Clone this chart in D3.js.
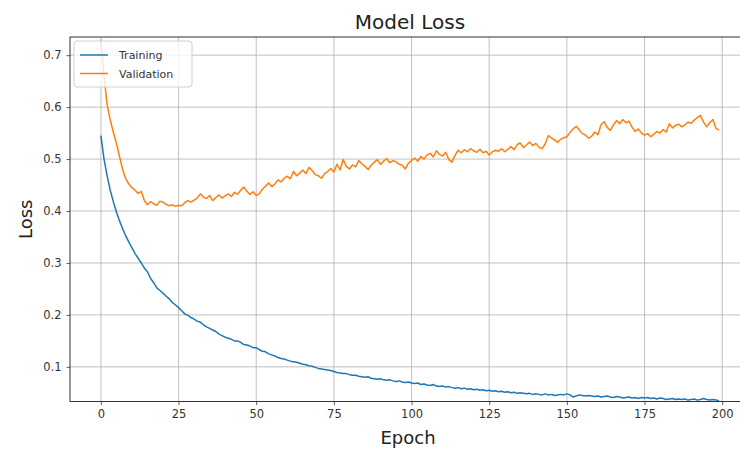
<!DOCTYPE html>
<html lang="en">
<head>
<meta charset="UTF-8">
<title>Model Loss</title>
<style>
  body { margin: 0; background: #fff; }
  #CHART { display: block; font-family: "DejaVu Sans", sans-serif; }
  .tick text { fill: #333; font-size: 11.5px; }
  .grid line { stroke: #b0b0b0; stroke-width: 0.8; }
</style>
</head>
<body>
<svg id="CHART" width="740" height="450"></svg>

<script src="https://cdnjs.cloudflare.com/ajax/libs/d3/7.8.5/d3.min.js"></script>
<script>
// values, one per epoch (0..199)
const training = [
  0.545, 0.500, 0.468, 0.440, 0.418, 0.398, 0.381, 0.366, 0.352, 0.340,
  0.329, 0.318, 0.309, 0.300, 0.290, 0.283, 0.270, 0.262, 0.252, 0.247,
  0.242, 0.236, 0.231, 0.224, 0.219, 0.214, 0.208, 0.202, 0.199, 0.195,
  0.192, 0.188, 0.186, 0.181, 0.177, 0.174, 0.171, 0.168, 0.163, 0.160,
  0.157, 0.155, 0.153, 0.150, 0.150, 0.147, 0.143, 0.142, 0.140, 0.137,
  0.137, 0.133, 0.130, 0.129, 0.125, 0.123, 0.121, 0.118, 0.116, 0.115,
  0.113, 0.111, 0.110, 0.109, 0.107, 0.105, 0.104, 0.102, 0.101, 0.099,
  0.097, 0.096, 0.095, 0.094, 0.093, 0.091, 0.089, 0.088, 0.087, 0.087,
  0.085, 0.084, 0.084, 0.082, 0.081, 0.080, 0.081, 0.078, 0.077, 0.076,
  0.077, 0.075, 0.074, 0.075, 0.073, 0.072, 0.073, 0.071, 0.070, 0.071,
  0.069, 0.068, 0.069, 0.066, 0.067, 0.065, 0.064, 0.066, 0.063, 0.062,
  0.063, 0.061, 0.062, 0.060, 0.059, 0.060, 0.058, 0.059, 0.057, 0.058,
  0.056, 0.057, 0.055, 0.056, 0.054, 0.055, 0.053, 0.054, 0.052, 0.053,
  0.051, 0.052, 0.050, 0.051, 0.049, 0.050, 0.049, 0.048, 0.049, 0.047,
  0.048, 0.047, 0.046, 0.048, 0.046, 0.047, 0.045, 0.046, 0.047, 0.046,
  0.048, 0.046, 0.042, 0.044, 0.046, 0.045, 0.044, 0.045, 0.044, 0.043,
  0.044, 0.042, 0.043, 0.044, 0.042, 0.041, 0.043, 0.042, 0.040, 0.041,
  0.042, 0.040, 0.041, 0.039, 0.041, 0.040, 0.041, 0.039, 0.040, 0.038,
  0.040, 0.039, 0.037, 0.038, 0.039, 0.037, 0.038, 0.037, 0.038, 0.036,
  0.037, 0.038, 0.036, 0.037, 0.039, 0.037, 0.036, 0.037, 0.036, 0.035
];
const validation = [
  0.730, 0.660, 0.605, 0.575, 0.552, 0.530, 0.505, 0.480, 0.462, 0.452,
  0.445, 0.440, 0.434, 0.438, 0.420, 0.412, 0.418, 0.414, 0.411, 0.419,
  0.417, 0.413, 0.410, 0.412, 0.409, 0.411, 0.410, 0.416, 0.420, 0.417,
  0.421, 0.425, 0.433, 0.427, 0.424, 0.430, 0.420, 0.426, 0.431, 0.425,
  0.429, 0.433, 0.428, 0.436, 0.432, 0.440, 0.446, 0.438, 0.432, 0.437,
  0.430, 0.433, 0.442, 0.448, 0.454, 0.447, 0.452, 0.460, 0.456, 0.463,
  0.467, 0.462, 0.476, 0.468, 0.473, 0.479, 0.472, 0.484, 0.478, 0.470,
  0.468, 0.463, 0.472, 0.476, 0.482, 0.475, 0.490, 0.479, 0.499, 0.486,
  0.481, 0.489, 0.485, 0.497, 0.491, 0.486, 0.480, 0.488, 0.494, 0.499,
  0.490, 0.496, 0.501, 0.493, 0.497, 0.495, 0.490, 0.488, 0.481, 0.492,
  0.497, 0.502, 0.496, 0.505, 0.500, 0.508, 0.511, 0.504, 0.516, 0.509,
  0.506, 0.513, 0.499, 0.494, 0.507, 0.517, 0.512, 0.518, 0.514, 0.520,
  0.516, 0.513, 0.519, 0.512, 0.515, 0.508, 0.514, 0.517, 0.515, 0.520,
  0.514, 0.519, 0.524, 0.518, 0.528, 0.531, 0.522, 0.527, 0.533, 0.526,
  0.530, 0.523, 0.520, 0.529, 0.545, 0.541, 0.537, 0.532, 0.538, 0.541,
  0.543, 0.551, 0.558, 0.563, 0.556, 0.549, 0.546, 0.540, 0.544, 0.552,
  0.547, 0.566, 0.572, 0.561, 0.555, 0.566, 0.574, 0.568, 0.576, 0.570,
  0.573, 0.561, 0.553, 0.558, 0.550, 0.546, 0.549, 0.543, 0.548, 0.553,
  0.550, 0.557, 0.552, 0.568, 0.560, 0.565, 0.567, 0.562, 0.566, 0.571,
  0.569, 0.575, 0.580, 0.584, 0.571, 0.562, 0.570, 0.576, 0.559, 0.556
];
const xTicks = [0, 25, 50, 75, 100, 125, 150, 175, 200];
const yTicks = [0.1, 0.2, 0.3, 0.4, 0.5, 0.6, 0.7];
const seriesNames = ["Training", "Validation"];
const seriesColors = ["#1f77b4", "#ff7f0e"];

var width = 740, height = 450;
// right spine sits past the window edge, as in the cropped original
var margin = { top: 37, right: -10, bottom: 48.5, left: 70 };
var plotW = width - margin.left - margin.right;
var plotH = height - margin.top - margin.bottom;

var svg = d3.select("#CHART");

var x = d3.scaleLinear().domain([-9.95, 208.95]).range([0, plotW]);
var y = d3.scaleLinear().domain([0.0333, 0.735]).range([plotH, 0]);

var clip = svg.append("clipPath").attr("id", "plot-clip")
  .append("rect").attr("width", plotW).attr("height", plotH);

var g = svg.append("g").attr("transform", "translate(" + margin.left + "," + margin.top + ")");

// grid
g.append("g").attr("class", "grid")
  .selectAll("line").data(xTicks).join("line")
    .attr("x1", d => x(d)).attr("x2", d => x(d))
    .attr("y1", 0).attr("y2", plotH);
g.append("g").attr("class", "grid")
  .selectAll("line").data(yTicks).join("line")
    .attr("x1", 0).attr("x2", plotW)
    .attr("y1", d => y(d)).attr("y2", d => y(d));

// lines
var line = d3.line().x((d, i) => x(i)).y(d => y(d));
var lines = g.append("g").attr("clip-path", "url(#plot-clip)");
[training, validation].forEach(function(vals, k) {
  lines.append("path")
    .datum(vals)
    .attr("fill", "none")
    .attr("stroke", seriesColors[k])
    .attr("stroke-width", 1.5)
    .attr("stroke-linejoin", "round")
    .attr("d", line);
});

// axes
var xAxis = g.append("g").attr("transform", "translate(0," + plotH + ")")
  .call(d3.axisBottom(x).tickValues(xTicks).tickSize(3.5).tickPadding(5).tickFormat(d3.format("d")));
var yAxis = g.append("g")
  .call(d3.axisLeft(y).tickValues(yTicks).tickSize(3.5).tickPadding(5).tickFormat(d3.format(".1f")));
[xAxis, yAxis].forEach(function(a) {
  a.attr("font-family", null).attr("font-size", null);
  a.select(".domain").remove();
  a.selectAll(".tick line").attr("stroke", "#333").attr("stroke-width", 0.8);
});

// frame
g.append("rect")
  .attr("width", plotW).attr("height", plotH)
  .attr("fill", "none").attr("stroke", "#333").attr("stroke-width", 1);

// legend
var legend = g.append("g").attr("transform", "translate(4,4)");
legend.append("rect")
  .attr("width", 118).attr("height", 46).attr("rx", 3)
  .attr("fill", "#fff").attr("fill-opacity", 0.8)
  .attr("stroke", "#d0d0d0").attr("stroke-width", 1);
seriesNames.forEach(function(name, k) {
  var yy = 14 + k * 18.5;
  legend.append("line")
    .attr("x1", 6).attr("x2", 34).attr("y1", yy).attr("y2", yy)
    .attr("stroke", seriesColors[k]).attr("stroke-width", 1.5);
  legend.append("text")
    .attr("x", 45).attr("y", yy + 4)
    .attr("font-size", "11px").attr("fill", "#333")
    .text(name);
});

// title and axis labels
svg.append("text")
  .attr("x", margin.left + plotW / 2).attr("y", 29)
  .attr("text-anchor", "middle").attr("font-size", "20px").attr("fill", "#222")
  .text("Model Loss");
svg.append("text")
  .attr("x", margin.left + plotW / 2 - 2).attr("y", 444)
  .attr("text-anchor", "middle").attr("font-size", "18px").attr("fill", "#222")
  .text("Epoch");
svg.append("text")
  .attr("transform", "translate(32," + (margin.top + plotH / 2) + ") rotate(-90)")
  .attr("text-anchor", "middle").attr("font-size", "18px").attr("fill", "#222")
  .text("Loss");
</script>
</body>
</html>
